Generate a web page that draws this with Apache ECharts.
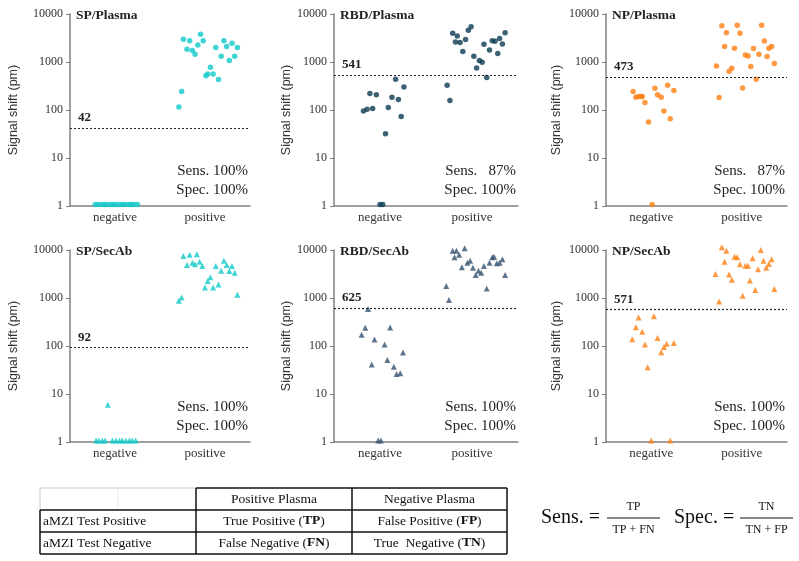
<!DOCTYPE html>
<html lang="en">
<head>
    <meta charset="UTF-8">
    <title>aMZI signal shift</title>
    <script src="https://cdn.jsdelivr.net/npm/echarts@6/dist/echarts.min.js"></script>
    <style>
        body,html{
            margin: 0;
            background: #fff;
        }
        #chart{
            width: 799px;
            height: 561px;
        }
    </style>
</head>
<body>
<div id="chart"></div>
<script type="text/javascript">

    //数据 [x抖动位置, 信号值]，x: 0..1 = negative, 1..2 = positive
    const spPlasmaNeg = [[0.28,1.07],[0.31,1.07],[0.35,1.07],[0.38,1.07],[0.41,1.07],[0.45,1.07],[0.48,1.07],[0.51,1.07],[0.55,1.07],[0.58,1.07],[0.61,1.07],[0.65,1.07],[0.68,1.07],[0.71,1.07],[0.75,1.07]];
    const spPlasmaPos = [[1.21,116],[1.24,243],[1.26,2972],[1.30,1842],[1.33,2788],[1.36,1727],[1.39,1449],[1.42,2266],[1.45,3778],[1.48,2788],[1.51,514],[1.53,565],[1.56,778],[1.59,565],[1.62,1995],[1.65,431],[1.68,1318],[1.71,2788],[1.74,2094],[1.77,1070],[1.80,2455],[1.83,1318],[1.86,1995]];

    const rbdPlasmaNeg = [[0.32,95],[0.36,104],[0.39,220],[0.42,107],[0.46,207],[0.50,1.07],[0.53,1.07],[0.56,32],[0.59,113],[0.63,185],[0.67,438],[0.70,165],[0.73,73],[0.76,303]];
    const rbdPlasmaPos = [[1.23,328],[1.26,158],[1.29,3963],[1.32,2618],[1.34,3486],[1.37,2535],[1.40,1648],[1.43,2926],[1.46,4575],[1.49,5454],[1.52,1318],[1.55,753],[1.58,1070],[1.61,988],[1.63,2340],[1.66,474],[1.69,1784],[1.72,2788],[1.75,2703],[1.78,1497],[1.80,3070],[1.83,2377],[1.86,4089]];

    const npPlasmaNeg = [[0.30,243],[0.33,185],[0.36,191],[0.39,191],[0.40,191],[0.43,143],[0.47,56],[0.51,1.07],[0.54,285],[0.57,207],[0.61,185],[0.64,95],[0.68,328],[0.71,66],[0.75,254]];
    const npPlasmaPos = [[1.22,829],[1.25,182],[1.28,5719],[1.31,2094],[1.33,4089],[1.36,642],[1.39,741],[1.42,1931],[1.45,5809],[1.48,3963],[1.51,289],[1.54,1403],[1.57,1340],[1.60,803],[1.63,1901],[1.66,438],[1.69,1449],[1.72,5809],[1.75,2744],[1.78,1297],[1.80,1931],[1.83,2094],[1.86,927]];

    const spSecAbNeg = [[0.29,1.07],[0.32,1.07],[0.36,1.07],[0.39,1.07],[0.42,6.0],[0.47,1.07],[0.51,1.07],[0.55,1.07],[0.58,1.07],[0.62,1.07],[0.66,1.07],[0.69,1.07],[0.73,1.07]];
    const spSecAbPos = [[1.21,877],[1.24,1029],[1.26,7495],[1.30,4864],[1.33,7993],[1.36,5445],[1.39,5023],[1.41,8123],[1.44,5712],[1.47,4637],[1.50,1663],[1.53,2255],[1.56,2690],[1.59,1663],[1.62,4637],[1.65,1920],[1.68,3705],[1.71,5989],[1.74,4864],[1.77,3645],[1.80,4637],[1.83,3364],[1.86,1169]];

    const rbdSecAbNeg = [[0.30,171],[0.34,239],[0.37,587],[0.41,41],[0.44,137],[0.48,1.07],[0.51,1.07],[0.55,107],[0.58,51],[0.61,243],[0.65,37],[0.68,26],[0.72,27],[0.75,73]];
    const rbdSecAbPos = [[1.22,1774],[1.25,905],[1.29,9683],[1.31,7031],[1.33,9683],[1.36,7993],[1.39,4350],[1.42,10833],[1.45,5445],[1.48,5989],[1.51,4278],[1.54,3007],[1.57,3705],[1.60,3364],[1.63,4637],[1.66,1585],[1.69,5445],[1.72,7031],[1.74,7261],[1.77,5270],[1.80,5445],[1.83,6383],[1.86,3007]];

    const npSecAbNeg = [[0.29,139],[0.33,247],[0.36,393],[0.40,198],[0.43,107],[0.46,36],[0.50,1.07],[0.53,419],[0.57,146],[0.61,74],[0.64,95],[0.67,111],[0.71,1.07],[0.75,116]];
    const npSecAbPos = [[1.21,3157],[1.25,849],[1.28,11369],[1.31,5712],[1.33,9683],[1.36,3105],[1.39,2404],[1.42,7261],[1.45,7031],[1.48,5023],[1.51,1114],[1.54,4710],[1.57,4710],[1.59,2328],[1.62,6698],[1.65,1462],[1.68,3953],[1.71,10000],[1.74,5989],[1.77,4278],[1.80,5103],[1.83,6383],[1.86,1535]];

    const panelTitles = ['SP/Plasma','RBD/Plasma','NP/Plasma','SP/SecAb','RBD/SecAb','NP/SecAb'];
    const thresholds = [42, 541, 473, 92, 625, 571];
    const sensTexts = ['Sens. 100%','Sens.   87%','Sens.   87%','Sens. 100%','Sens. 100%','Sens. 100%'];
    const specTexts = ['Spec. 100%','Spec. 100%','Spec. 100%','Spec. 100%','Spec. 100%','Spec. 100%'];
    const categories = ['negative','positive'];
    const yTicks = [1, 10, 100, 1000, 10000];

    //表格
    const tableHeader = ['Positive Plasma','Negative Plasma'];
    const tableRows = ['aMZI Test Positive','aMZI Test Negative'];
    const tableCells = [
        ['True Positive ({b|TP})','False Positive ({b|FP})'],
        ['False Negative ({b|FN})','True  Negative ({b|TN})']
    ];

    const negData = [spPlasmaNeg, rbdPlasmaNeg, npPlasmaNeg, spSecAbNeg, rbdSecAbNeg, npSecAbNeg];
    const posData = [spPlasmaPos, rbdPlasmaPos, npPlasmaPos, spSecAbPos, rbdSecAbPos, npSecAbPos];

    //样式 / 布局
    const colors = ['#12c9c9','#0b3c52','#ff7f11','#12c9c9','#34536f','#ff7f11'];
    const symbols = ['circle','circle','circle','triangle','triangle','triangle'];
    const symbolSizes = [5.5,5.5,5.5,6,6,6];
    const colLeft = [70, 334, 606];
    const colWidth = [180, 184, 181];
    const nameGaps = [50, 40, 43];
    const rowTop = [14, 250];
    const plotH = 192;

    const serif = "'Liberation Serif', 'Times New Roman', serif";
    const sans = "'Liberation Sans', Arial, sans-serif";

    let grids = [], xAxes = [], yAxes = [], series = [], graphics = [];

    for(let i=0;i<6;i++){
        let c = i % 3, r = Math.floor(i / 3);
        grids.push({left: colLeft[c], top: rowTop[r], width: colWidth[c], height: plotH});

        xAxes.push({
            type: 'value', gridIndex: i, min: 0, max: 2, interval: 0.5,
            axisLine: {lineStyle: {color: '#808080', width: 1.5}},
            axisTick: {show: false},
            splitLine: {show: false},
            axisLabel: {
                margin: 5, color: '#333', fontFamily: serif, fontSize: 13,
                formatter: function (v) {
                    if (v === 0.5) return categories[0];
                    if (v === 1.5) return categories[1];
                    return '';
                }
            }
        });

        yAxes.push({
            type: 'log', logBase: 10, gridIndex: i, min: yTicks[0], max: yTicks[yTicks.length-1],
            name: 'Signal shift (pm)', nameLocation: 'middle', nameGap: nameGaps[c],
            nameTextStyle: {fontFamily: sans, fontSize: 12.5, color: '#333'},
            axisLine: {show: true, lineStyle: {color: '#808080', width: 1.5}},
            axisTick: {show: true, length: 4, lineStyle: {color: '#808080'}},
            minorTick: {show: false},
            splitLine: {show: false},
            axisLabel: {
                margin: 7, color: '#333', fontFamily: serif, fontSize: 12,
                formatter: function (v) { return String(Math.round(v)); }
            }
        });

        series.push({
            name: panelTitles[i],
            type: 'scatter',
            xAxisIndex: i, yAxisIndex: i,
            clip: false,
            symbol: symbols[i],
            symbolSize: symbolSizes[i],
            itemStyle: {color: colors[i]},
            data: negData[i].concat(posData[i]),
            markLine: {
                silent: true,
                symbol: 'none',
                lineStyle: {type: [2, 2], color: '#222', width: 1.2},
                label: {
                    position: 'insideStartTop', formatter: String(thresholds[i]),
                    fontFamily: serif, fontSize: 13, fontWeight: 'bold', color: '#222',
                    distance: [8, 4]
                },
                data: [{yAxis: thresholds[i]}]
            }
        });

        //标题和灵敏度
        graphics.push({
            type: 'text', x: colLeft[c] + 6, y: rowTop[r] + 2,
            style: {text: panelTitles[i], fontFamily: serif, fontSize: 13.5, fontWeight: 'bold', fill: '#222', verticalAlign: 'middle'}
        });
        graphics.push({
            type: 'text', x: colLeft[c] + colWidth[c] - 2, y: rowTop[r] + 157,
            style: {text: sensTexts[i], fontFamily: serif, fontSize: 15, fill: '#222', align: 'right', verticalAlign: 'middle'}
        });
        graphics.push({
            type: 'text', x: colLeft[c] + colWidth[c] - 2, y: rowTop[r] + 176,
            style: {text: specTexts[i], fontFamily: serif, fontSize: 15, fill: '#222', align: 'right', verticalAlign: 'middle'}
        });
    }

    //表格线
    const tx = [40, 196, 352, 507], ty = [488, 510, 532, 554];
    function line(x1, y1, x2, y2, color, w) {
        graphics.push({type: 'line', shape: {x1: x1, y1: y1, x2: x2, y2: y2}, style: {stroke: color, lineWidth: w}});
    }
    line(tx[0], ty[0], tx[1], ty[0], '#c8c8c8', 1);
    line(tx[0], ty[0], tx[0], ty[1], '#c8c8c8', 1);
    line(118, ty[0], 118, ty[1], '#ececec', 1);
    line(tx[1], ty[0], tx[3], ty[0], '#111', 1.5);
    for(let k=1;k<4;k++) line(tx[0], ty[k], tx[3], ty[k], '#111', 1.5);
    for(let k=1;k<4;k++) line(tx[k], ty[0], tx[k], ty[3], '#111', 1.5);
    line(tx[0], ty[1], tx[0], ty[3], '#111', 1.5);

    function cellText(text, x, y, align) {
        graphics.push({
            type: 'text', x: x, y: y,
            style: {
                text: text, fontFamily: serif, fontSize: 13.5, fill: '#111', align: align, verticalAlign: 'middle',
                rich: {b: {fontFamily: serif, fontSize: 13.5, fontWeight: 'bold', fill: '#111'}}
            }
        });
    }
    for(let k=0;k<2;k++){
        cellText(tableHeader[k], (tx[k+1] + tx[k+2]) / 2, (ty[0] + ty[1]) / 2, 'center');
        cellText(tableRows[k], tx[0] + 3, (ty[k+1] + ty[k+2]) / 2, 'left');
        for(let j=0;j<2;j++){
            cellText(tableCells[k][j], (tx[j+1] + tx[j+2]) / 2, (ty[k+1] + ty[k+2]) / 2, 'center');
        }
    }

    //公式
    function formula(label, lx, num, den, fx1, fx2) {
        graphics.push({type: 'text', x: lx, y: 518, style: {text: label, fontFamily: serif, fontSize: 20, fill: '#111', verticalAlign: 'middle'}});
        graphics.push({type: 'text', x: (fx1 + fx2) / 2, y: 507, style: {text: num, fontFamily: serif, fontSize: 12, fill: '#111', align: 'center', verticalAlign: 'middle'}});
        graphics.push({type: 'text', x: (fx1 + fx2) / 2, y: 530, style: {text: den, fontFamily: serif, fontSize: 12, fill: '#111', align: 'center', verticalAlign: 'middle'}});
        line(fx1, 518, fx2, 518, '#111', 1);
    }
    formula('Sens. =', 541, 'TP', 'TP + FN', 607, 660);
    formula('Spec. =', 674, 'TN', 'TN + FP', 740, 793);

    let myChart = echarts.init(document.getElementById('chart'), null, {renderer: 'canvas'});
    myChart.setOption({
        backgroundColor: '#fff',
        animation: false,
        grid: grids,
        xAxis: xAxes,
        yAxis: yAxes,
        series: series,
        graphic: graphics
    });
</script>
</body>
</html>
